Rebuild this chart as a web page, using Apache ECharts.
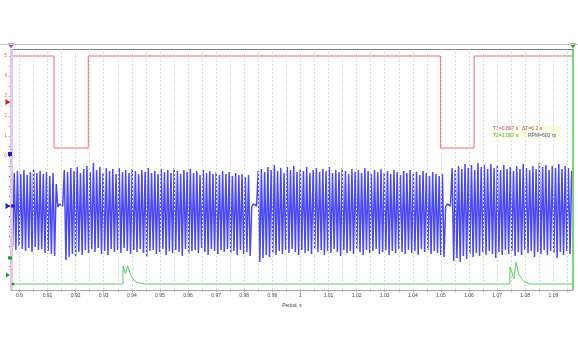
<!DOCTYPE html>
<html>
<head>
<meta charset="utf-8">
<script src="https://cdn.jsdelivr.net/npm/echarts@6/dist/echarts.min.js"></script>
<style>
html,body{margin:0;padding:0;background:#fff;}
#chart{width:578px;height:350px;}
</style>
</head>
<body>
<div id="chart"></div>
<script>
// ---------- DATA ----------
const timeMin = 0.897;   // T1 cursor
const timeMax = 1.097;   // T2 cursor
const cursorTimes = [0.897, 1.097];
const xTickValues = [0.9,0.91,0.92,0.93,0.94,0.95,0.96,0.97,0.98,0.99,1,1.01,1.02,1.03,1.04,1.05,1.06,1.07,1.08,1.09];
const gridTimes = [0.9,0.905,0.91,0.915,0.92,0.925,0.93,0.935,0.94,0.945,0.95,0.955,0.96,0.965,0.97,0.975,0.98,0.985,0.99,0.995,1,1.005,1.01,1.015,1.02,1.025,1.03,1.035,1.04,1.045,1.05,1.055,1.06,1.065,1.07,1.075,1.08,1.085,1.09,1.095];
const redTicks = [0,1,2,3,4,5];

// Channel A (red), V
const redTimes  = [0.897, 0.9123, 0.9123, 0.9245, 0.9245, 1.0498, 1.0498, 1.0618, 1.0618, 1.097];
const redValues = [5.0,   5.0,    0.4,    0.4,    5.0,    5.0,    0.4,    0.4,    5.0,    5.0];

// Channel B (blue) – sampled trace, one sample per half tooth
const blueStart = 0.897;
const blueStep = 0.000575;
const blueSegA = [3.0,-4.1,3.3,-4.4,3.5,-4.0,3.2,-4.3,3.6,-4.5,3.1,-4.2,3.4,-4.6,3.7,-4.1,3.3,-4.4,3.5,-4.3,3.2,-4.7,3.4,-4.5,3.0,-4.8,3.3,-5.0,2.2];
const blueGap1 = [-0.1,0.2,0.1,0.0];
const blueSegB = [3.6,-5.4,3.4,-5.1,3.8,-4.8,3.5,-5.0,3.9,-4.6,3.3,-4.9,3.7,-4.4,4.0,-4.7,3.4,-4.3,4.3,-4.6,
  3.6,-4.2,3.9,-4.8,3.3,-4.5,3.8,-4.9,3.5,-4.3,3.7,-4.6,3.2,-4.4,3.8,-4.7,3.4,-4.2,3.6,-4.5,
  3.3,-4.8,3.7,-4.4,3.5,-4.6,3.2,-4.3,3.6,-4.7,3.4,-5.1,3.8,-4.5,3.3,-4.4,3.5,-4.8,3.2,-4.6,
  3.7,-4.3,3.4,-4.9,3.6,-4.5,3.3,-4.7,3.8,-4.4,3.5,-4.6,3.2,-5.0,3.6,-4.3,3.4,-4.8,3.7,-4.5,
  3.3,-4.4,3.5,-4.7,3.1,-4.2,3.6,-4.6,3.3,-4.9,3.5,-4.3,3.2,-4.5,3.4,-4.8,3.1,-4.4,3.5,-4.6,
  3.2,-4.3,3.4,-4.7,3.0,-4.5,3.3,-4.9,3.1,-4.4,3.2,-4.8,2.9,-4.6,3.1,-5.0];
const blueGap2 = [-0.1,0.2,0.1,0.0];
const blueSegC = [3.5,-5.6,3.7,-5.2,3.4,-4.9,3.9,-5.1,3.6,-4.7,4.1,-4.9,3.5,-4.5,3.8,-4.8,3.3,-4.4,3.9,-4.7,
  3.6,-4.3,4.0,-4.6,3.4,-4.9,3.7,-4.4,3.5,-4.7,3.9,-4.5,3.3,-4.8,3.6,-4.3,3.8,-4.6,3.4,-4.4,
  3.7,-4.9,3.5,-4.5,3.9,-4.7,3.3,-4.3,3.6,-4.6,3.4,-5.0,3.8,-4.4,3.5,-4.7,3.2,-4.5,3.7,-4.8,
  3.4,-4.3,3.6,-4.6,3.3,-4.9,3.8,-4.4,3.5,-4.7,3.2,-4.5,3.6,-4.3,3.4,-4.8,3.7,-4.6,3.3,-4.4,
  3.5,-4.9,3.2,-4.5,3.6,-4.7,3.4,-4.3,3.1,-4.6,3.5,-4.8,3.3,-4.4,3.6,-4.7,3.2,-4.5,3.4,-4.9,
  3.1,-4.3,3.5,-4.6,3.3,-4.4,3.0,-4.8,3.4,-4.5,3.2,-4.7,3.0,-4.9,3.2,-5.1];
const blueGap3 = [-0.1,0.2,0.1,0.0];
const blueSegD = [3.8,-5.5,3.6,-5.2,4.0,-5.6,3.7,-5.0,4.2,-5.3,3.8,-4.8,4.1,-5.1,3.6,-4.7,4.3,-5.0,3.9,-4.6,
  4.1,-4.9,3.7,-4.5,4.2,-4.8,3.8,-5.2,4.0,-4.6,3.6,-4.9,4.1,-4.4,3.7,-4.8,3.9,-4.5,3.5,-5.0,
  4.0,-4.6,3.7,-4.9,4.2,-4.4,3.8,-4.7,3.6,-4.5,4.0,-5.1,3.7,-4.6,4.3,-4.8,3.9,-4.4,4.1,-4.9,
  3.6,-4.5,4.0,-4.7,3.8,-5.2,4.2,-4.6,3.7,-4.9,4.0,-4.5,3.8,-4.8,3.5];

// Channel C (green)
const greenTimes  = [0.897, 0.93685, 0.93688, 0.9377, 0.93855, 0.93947, 0.94067, 0.94184, 0.94362, 0.9450,
                     1.07454, 1.07457, 1.07599, 1.0767, 1.07777, 1.07954, 1.08191, 1.097];
const greenValues = [0,     0,       1.8,     1.05,   1.8,     1.0,     0.4,     0.17,    0.02,    0,
                     0,       1.7,     0.5,     2.2,    0.9,     0.23,    0,       0];

const infoLine1a = 'T1=0.897 s';
const infoLine1b = '\u0394T=0.2 s';
const infoLine2a = 'T2=1.097 s';
const infoLine2b = 'RPM=600 rpm';
const xName = 'Period, s';

// ---------- BUILD ----------
const blueValues = [].concat(blueSegA, blueGap1, blueSegB, blueGap2, blueSegC, blueGap3, blueSegD);
const blueData = blueValues.map((v, i) => [blueStart + i * blueStep, v]);
const redData = redTimes.map((t, i) => [t, redValues[i]]);
const greenData = greenTimes.map((t, i) => [t, greenValues[i]]);

const FONT = 'Liberation Sans, Arial, sans-serif';
const L = 11, R = 5;

const hiddenX = (gi) => ({type:'value', gridIndex: gi, min: timeMin, max: timeMax, show: false});
const gridBase = {left: L, right: R, containLabel: false, outerBoundsMode: 'none'};

const option = {
  animation: false,
  backgroundColor: '#ffffff',
  grid: [
    Object.assign({top: 49, bottom: 60}, gridBase),
    Object.assign({top: 56, height: 100}, gridBase),
    Object.assign({top: 146, height: 120}, gridBase),
    Object.assign({top: 254, height: 36}, gridBase)
  ],
  xAxis: [
    {
      type: 'value', gridIndex: 0, min: timeMin, max: timeMax, position: 'bottom',
      axisLine: {show: true, lineStyle: {color: '#a8a8a8', width: 1}},
      axisTick: {show: true, customValues: gridTimes, length: 2, lineStyle: {color: '#a8a8a8'}},
      axisLabel: {customValues: xTickValues, fontSize: 5, color: '#444', margin: 3, fontFamily: FONT,
                  formatter: v => String(Math.round(v * 1000) / 1000)},
      splitLine: {show: false},
      name: xName, nameLocation: 'middle', nameGap: 12,
      nameTextStyle: {fontSize: 5, color: '#444', fontFamily: FONT}
    },
    {
      type: 'value', gridIndex: 0, min: timeMin, max: timeMax, position: 'top',
      axisLine: {show: true, lineStyle: {color: '#808080', width: 1}},
      axisTick: {show: false}, axisLabel: {show: false}, splitLine: {show: false}
    },
    hiddenX(1), hiddenX(2), hiddenX(3)
  ],
  yAxis: [
    {type: 'value', gridIndex: 0, min: 0, max: 1, show: false},
    {
      type: 'value', gridIndex: 1, min: 0, max: 5, interval: 1,
      axisLine: {show: false},
      axisTick: {show: true, length: 2, lineStyle: {color: '#f07070'}},
      minorTick: {show: true, splitNumber: 2, length: 2, lineStyle: {color: '#f07070'}},
      axisLabel: {show: true, fontSize: 5, color: '#f06060', margin: 4, fontFamily: FONT,
                  customValues: redTicks},
      splitLine: {show: false}
    },
    {
      type: 'value', gridIndex: 2, min: -6, max: 6, interval: 1,
      axisLine: {show: false},
      axisTick: {show: true, length: 2, lineStyle: {color: '#5050e0'}},
      axisLabel: {show: false}, splitLine: {show: false}
    },
    {
      type: 'value', gridIndex: 3, min: -0.6, max: 3,
      axisLine: {show: false}, axisTick: {show: false}, axisLabel: {show: false}, splitLine: {show: false}
    }
  ],
  series: [
    {
      name: 'grid', type: 'line', xAxisIndex: 0, yAxisIndex: 0, data: [], z: 1, clip: false, silent: true,
      markLine: {
        silent: true, symbol: ['none', 'none'], animation: false, precision: 6,
        label: {show: false},
        lineStyle: {color: '#dadada', type: [2, 2], width: 1},
        data: gridTimes.map(t => ({xAxis: t}))
      }
    },
    {
      name: 'cursorT1', type: 'line', xAxisIndex: 0, yAxisIndex: 0, data: [], z: 5, clip: false, silent: true,
      markLine: {
        silent: true, symbol: ['none', 'none'], animation: false, label: {show: false}, precision: 6,
        lineStyle: {color: '#e4c8ec', type: 'solid', width: 3},
        data: [{xAxis: cursorTimes[0]}]
      },
      markPoint: {
        silent: true, label: {show: false}, animation: false,
        data: [{coord: [cursorTimes[0], 1], symbol: 'triangle', symbolRotate: 180, symbolSize: [7, 5], symbolOffset: [0, -3], itemStyle: {color: '#a050b8'}}]
      }
    },
    {
      name: 'cursorT2', type: 'line', xAxisIndex: 0, yAxisIndex: 0, data: [], z: 5, clip: false, silent: true,
      markLine: {
        silent: true, symbol: ['none', 'none'], animation: false, label: {show: false}, precision: 6,
        lineStyle: {color: '#50c450', type: 'solid', width: 1.5},
        data: [{xAxis: cursorTimes[1]}]
      },
      markPoint: {
        silent: true, label: {show: false}, animation: false,
        data: [{coord: [cursorTimes[1], 1], symbol: 'triangle', symbolRotate: 180, symbolSize: [7, 5], symbolOffset: [0, -3], itemStyle: {color: '#30a030'}}]
      }
    },
    {
      name: 'A', type: 'line', xAxisIndex: 2, yAxisIndex: 1, data: redData, z: 3, clip: false,
      showSymbol: false, symbol: 'none', lineStyle: {color: '#f06a6a', width: 1},
      markPoint: {
        silent: true, label: {show: false}, animation: false,
        data: [
          {coord: [timeMin, 2.7], symbol: 'triangle', symbolRotate: -90, symbolSize: [6, 5], symbolOffset: [-3, 0], itemStyle: {color: '#d02020'}},
          {coord: [timeMin, 5.3], symbol: 'rect', symbolSize: [5, 3], symbolOffset: [0, 0], itemStyle: {color: '#d02020'}},
          {coord: [timeMin, -0.05], symbol: 'rect', symbolSize: [3, 3], symbolOffset: [1, 0], itemStyle: {color: '#c02020'}}
        ]
      }
    },
    {
      name: 'B', type: 'line', xAxisIndex: 3, yAxisIndex: 2, data: blueData, z: 2, clip: false,
      showSymbol: false, symbol: 'none', sampling: 'none', lineStyle: {color: '#4a4af4', width: 1.5},
      markPoint: {
        silent: true, label: {show: false}, animation: false,
        data: [
          {coord: [timeMin, 0], symbol: 'triangle', symbolRotate: -90, symbolSize: [6, 5], symbolOffset: [-3, 0], itemStyle: {color: '#2020c8'}},
          {coord: [timeMin, 0], symbol: 'rect', symbolSize: [4, 3], symbolOffset: [2, 0], itemStyle: {color: '#2020c8'}},
          {coord: [timeMin, 5.2], symbol: 'rect', symbolSize: [4, 4], symbolOffset: [-1, 0], itemStyle: {color: '#2020c8'}}
        ]
      }
    },
    {
      name: 'C', type: 'line', xAxisIndex: 4, yAxisIndex: 3, data: greenData, z: 3, clip: false,
      showSymbol: false, symbol: 'none', lineStyle: {color: '#5cd05c', width: 1},
      markPoint: {
        silent: true, label: {show: false}, animation: false,
        data: [
          {coord: [timeMin, 2.6], symbol: 'rect', symbolSize: [4, 3], symbolOffset: [-1, 0], itemStyle: {color: '#20a020'}},
          {coord: [timeMin, 0.9], symbol: 'triangle', symbolRotate: -90, symbolSize: [5, 4], symbolOffset: [-3, 0], itemStyle: {color: '#20a020'}},
          {coord: [timeMin, 0], symbol: 'circle', symbolSize: 3, symbolOffset: [2, 0], itemStyle: {color: '#20a020'}}
        ]
      }
    }
  ],
  graphic: [
    {type: 'line', silent: true, shape: {x1: 0, y1: 44.5, x2: 578, y2: 44.5}, style: {stroke: '#c8c8c8', lineWidth: 1}, z: 10},
    {
      type: 'group', left: 492, top: 125, silent: true, z: 20,
      children: [
        {type: 'rect', shape: {x: 0, y: 0, width: 70, height: 14}, style: {fill: '#fdfde4'}},
        {type: 'text', x: 1, y: 1.5, style: {text: infoLine1a, fontSize: 5, fill: '#b040b0', fontFamily: FONT}},
        {type: 'text', x: 30, y: 1.5, style: {text: infoLine1b, fontSize: 5, fill: '#b04070', fontFamily: FONT}},
        {type: 'text', x: 1, y: 8, style: {text: infoLine2a, fontSize: 5, fill: '#40a840', fontFamily: FONT}},
        {type: 'text', x: 36, y: 8, style: {text: infoLine2b, fontSize: 5, fill: '#4a4a9a', fontFamily: FONT,
          width: 33, overflow: 'truncate', ellipsis: ''}}
      ]
    }
  ]
};

const chart = echarts.init(document.getElementById('chart'), null, {renderer: 'canvas'});
chart.setOption(option);
</script>
</body>
</html>
